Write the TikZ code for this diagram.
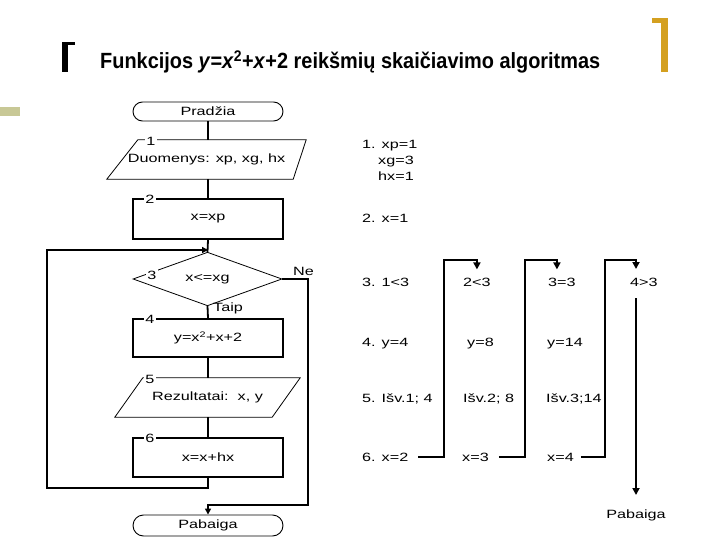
\documentclass[tikz,border=0pt]{standalone}
\usepackage{fontspec}
\usepackage{graphicx}
\setmainfont{Liberation Sans}
\newfontfamily\dfont[FakeStretch=1.35]{Liberation Sans}
\usetikzlibrary{shapes.geometric,shapes.misc,arrows.meta}
\definecolor{gold}{RGB}{212,160,32}
\definecolor{olivebar}{RGB}{200,200,150}
\begin{document}
\begin{tikzpicture}[x=1pt,y=-1pt,
  fc/.style={font=\dfont\fontsize{12}{14}\selectfont},
  term/.style={rounded rectangle, draw, line width=0.9pt, minimum width=150pt, minimum height=19pt, inner sep=0pt, fc},
  proc/.style={rectangle, draw, line width=2pt, minimum width=150pt, minimum height=40pt, inner sep=0pt, fc},
  dec/.style={diamond, draw, line width=0.8pt, minimum width=149pt, minimum height=38pt, inner sep=0pt, fc},
  iobox/.style={rectangle, minimum height=39pt, inner sep=0pt, fc},
  ioline/.style={line width=0.8pt, line join=miter},
  num/.style={fill=white, inner sep=1.5pt, fc},
  conn/.style={line width=1.8pt},
  arr/.style={conn, line join=miter, -{Triangle[length=6pt,width=6pt]}},
  tr/.style={line width=2.5pt, line join=miter},
  trarr/.style={tr, -{Triangle[length=7pt,width=7pt]}},
  txt/.style={fc, anchor=base west, inner sep=0pt}]
\useasboundingbox (0,0) rectangle (720,540);
\fill[white] (0,0) rectangle (720,540);
% decorations
\fill[black] (62,42) rectangle (68,72);
\fill[black] (62,42) rectangle (75,45.5);
\fill[gold] (661,18) rectangle (668,72);
\fill[gold] (652,18) rectangle (668,23);
\fill[olivebar] (0,107) rectangle (20,116);
% title
\node[anchor=base west, inner sep=0pt, font=\bfseries\fontsize{22}{26}\selectfont] (title) at (100,69)
  {\resizebox{500pt}{\height}{Funkcijos \textit{y}=\textit{x}\textsuperscript{2}+\textit{x}+2 reikšmių skaičiavimo algoritmas}};
% flowchart
\node[term] (start) at (208,111.5) {Pradžia};
\node[iobox, minimum width=199pt] (p1) at (206.5,159.5) {Duomenys: xp, xg, hx};
\draw[ioline] ([xshift=31pt]p1.north west) -- (p1.north east) -- ([xshift=-13pt]p1.south east) -- (p1.south west) -- cycle;
\node[proc] (r2) at (208,219) {x=xp};
\node[dec] (d3) at (207.5,279) {x<=xg};
\node[proc, minimum height=38pt] (r4) at (208,338) {y=x\textsuperscript{2}+x+2};
\node[iobox, minimum width=185pt] (p5) at (207.5,397.5) {Rezultatai:\ \ x, y};
\draw[ioline] ([xshift=28pt]p5.north west) -- (p5.north east) -- ([xshift=-28pt]p5.south east) -- (p5.south west) -- cycle;
\node[proc, minimum height=39pt] (r6) at (208,457.5) {x=x+hx};
\node[term, minimum height=21pt] (end) at (208,525.5) {Pabaiga};
% numbers
\node[num] (n1) at (151,141) {1};
\node[num] (n2) at (150,199) {2};
\node[num] (n3) at (152,275) {3};
\node[num] (n4) at (150,319) {4};
\node[num] (n5) at (150,379) {5};
\node[num] (n6) at (150,438) {6};
\node[txt] (taip) at (213,311.5) {Taip};
\node[txt] (ne) at (293,275) {Ne};
% connectors
\coordinate (loopin) at (208,250);
\coordinate (jn) at (208,505);
\draw[conn] (start.south) -- (start.south |- p1.north);
\draw[conn] (start.south |- p1.south) -- (r2.north);
\draw[conn] (r2.south) -- (d3.north);
\draw[conn] (d3.south) -- (r4.north);
\draw[conn] (r4.south) -- (r4.south |- p5.north);
\draw[conn] (r4.south |- p5.south) -- (r6.north);
\draw[arr] (r6.south) -- ++(0,10) -| (47,250) -- (loopin);
\draw[arr] (d3.east) -| (308,505) -- (jn) -- (end.north);
% trace table
\node[txt] (t11) at (362,148.5) {1. xp=1};
\node[txt] (t12) at (378,164.5) {xg=3};
\node[txt] (t13) at (378,180.5) {hx=1};
\node[txt] (t2) at (362,222.5) {2. x=1};
\node[txt] (t31) at (362,286) {3. 1<3};
\node[txt] (t32) at (463,286) {2<3};
\node[txt] (t33) at (548,286) {3=3};
\node[txt] (t34) at (630,286) {4>3};
\node[txt] (t41) at (362,346) {4. y=4};
\node[txt] (t42) at (467,346) {y=8};
\node[txt] (t43) at (547,346) {y=14};
\node[txt] (t51) at (362,402.5) {5. Išv.1; 4};
\node[txt] (t52) at (463,402.5) {Išv.2; 8};
\node[txt] (t53) at (546,402.5) {Išv.3;14};
\node[txt] (t61) at (362,461.5) {6. x=2};
\node[txt] (t62) at (462,461.5) {x=3};
\node[txt] (t63) at (547,461.5) {x=4};
\node[fc, inner sep=0pt] (pab) at (636,515) {Pabaiga};
\coordinate (k1) at (444,260);
\coordinate (k2) at (525,260);
\coordinate (k3) at (605,260);
\coordinate (k4e) at (636,269);
\coordinate (dtop) at (636,298);
\coordinate (dbot) at (636,495);
\draw[trarr] ([xshift=10pt,yshift=4.3pt]t61.base east) -| (k1) -| ([yshift=8pt]t32.north);
\draw[trarr] ([xshift=10pt,yshift=4.3pt]t62.base east) -| (k2) -| ([xshift=-5pt,yshift=8pt]t33.north);
\draw[trarr] ([xshift=7pt,yshift=4.3pt]t63.base east) -| (k3) -| (k4e);
\draw[trarr] (dtop) -- (dbot);
\end{tikzpicture}
\end{document}
